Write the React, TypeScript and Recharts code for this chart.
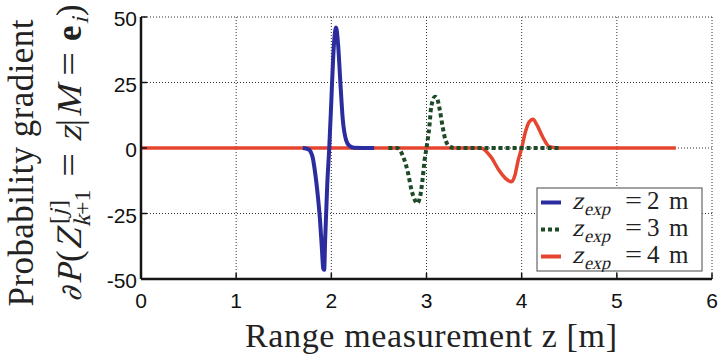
import React from 'react';
import { LineChart, Line, XAxis, YAxis, CartesianGrid, Customized } from 'recharts';

const xTicks = [0, 1, 2, 3, 4, 5, 6];
const yTicks = [-50, -25, 0, 25, 50];

const blueZ = [1.7, 1.76, 1.8, 1.83, 1.86, 1.88, 1.9, 1.915, 1.925, 1.935, 1.957, 1.978, 2.0, 2.02, 2.035, 2.05, 2.07, 2.095, 2.12, 2.155, 2.19, 2.24, 2.45];
const blueP = [0, -0.5, -3, -9.5, -19, -27, -38, -46, -46.5, -35, -14, 0, 18, 35, 43, 46, 40, 25, 11, 3, 0.8, 0.1, 0];

const greenZ = [2.6, 2.69, 2.755, 2.807, 2.842, 2.877, 2.9, 2.93, 2.958, 2.98, 3.0, 3.03, 3.05, 3.09, 3.11, 3.14, 3.17, 3.2, 3.25, 3.3, 4.4];
const greenP = [0, 0, -3.3, -9.7, -16, -19.8, -21.1, -19, -12.2, -4.6, 0, 8.1, 15.8, 19.6, 19, 14.5, 8, 3, 0.4, 0, 0];

const redZ = [0, 3.57, 3.675, 3.76, 3.83, 3.89, 3.93, 3.96, 4.0, 4.04, 4.08, 4.12, 4.16, 4.22, 4.29, 4.4, 5.62];
const redP = [0, 0, -3.3, -8.4, -11.6, -12.9, -10.3, -5.2, 0, 6.2, 10, 11, 8.8, 4.3, 0.5, 0, 0];

const legendValues = ['2', '3', '4'];

const BLUE = '#2b2d9e';
const GREEN = '#1d4a27';
const RED = '#e6452f';

const toRows = (zs: number[], ps: number[]) => zs.map((z, i) => ({ z, p: ps[i] }));
const blueData = toRows(blueZ, blueP);
const greenData = toRows(greenZ, greenP);
const redData = toRows(redZ, redP);

const series = [
  { key: 'red', data: redData, color: RED, width: 3.5, dash: undefined },
  { key: 'blue', data: blueData, color: BLUE, width: 4, dash: undefined },
  { key: 'green', data: greenData, color: GREEN, width: 4, dash: '4 3' },
];

const legendItems = [
  { v: legendValues[0], color: BLUE, dash: undefined },
  { v: legendValues[1], color: GREEN, dash: '4 3' },
  { v: legendValues[2], color: RED, dash: undefined },
];

const TICK_FONT = '"Liberation Sans", Arial, sans-serif';
const SERIF = '"Liberation Serif", "Times New Roman", serif';
const AX = '#151515';
const TXT = '#222';

const BottomTick = (p: any) => {
  const ay = p.y - 14;
  return (
    <g>
      <line x1={p.x} x2={p.x} y1={ay} y2={ay - 6} stroke={AX} strokeWidth={1.5} />
      <text x={p.x} y={p.y} dy="0.71em" textAnchor="middle" fontFamily={TICK_FONT} fontSize={21} fill="#111">
        {p.payload.value}
      </text>
    </g>
  );
};
const TopTick = (p: any) => (
  <line x1={p.x} x2={p.x} y1={p.y} y2={p.y + 6} stroke={AX} strokeWidth={1.5} />
);
const LeftTick = (p: any) => {
  const ax = p.x + 4;
  return (
    <g>
      <line x1={ax} x2={ax + 6} y1={p.y} y2={p.y} stroke={AX} strokeWidth={1.5} />
      <text x={p.x} y={p.y} dy={9} textAnchor="end" fontFamily={TICK_FONT} fontSize={21} fill="#111">
        {p.payload.value}
      </text>
    </g>
  );
};
const RightTick = (p: any) => (
  <line x1={p.x} x2={p.x - 6} y1={p.y} y2={p.y} stroke={AX} strokeWidth={1.5} />
);

type Piece = { t: string; s: number; dy?: number; size?: number; it?: boolean; bold?: boolean; fam?: string; w?: number };

const Glyph = ({ pc }: { pc: Piece }) => (
  <text
    transform={`translate(${pc.s}, ${pc.dy || 0})${pc.it ? ' skewX(-14)' : ''}`}
    x={0}
    y={0}
    fontFamily={pc.fam || SERIF}
    fontSize={pc.size || 35}
    fontWeight={pc.bold ? 'bold' : 'normal'}
    fill={TXT}
    textLength={pc.w}
    lengthAdjust={pc.w ? 'spacingAndGlyphs' : undefined}
  >
    {pc.t}
  </text>
);

const mathLabel: Piece[] = [
  { t: '∂', s: 0, it: true, fam: '"DejaVu Serif", serif', size: 29 },
  { t: 'P', s: 18, it: true },
  { t: '(', s: 40 },
  { t: 'Z', s: 52, it: true, size: 36 },
  { t: 'k', s: 75, dy: 9, it: true, size: 24 },
  { t: '+1', s: 87, dy: 9, size: 24 },
  { t: '[', s: 78, dy: -15, size: 24 },
  { t: 'j', s: 86, dy: -15, it: true, size: 24 },
  { t: ']', s: 94, dy: -15, size: 24 },
  { t: '=', s: 125, w: 24 },
  { t: 'z', s: 160, it: true },
  { t: '|', s: 176 },
  { t: 'M', s: 185, it: true, w: 31 },
  { t: '=', s: 226, w: 24 },
  { t: 'e', s: 261, bold: true },
  { t: 'i', s: 278, dy: 7, it: true, size: 24 },
  { t: ')', s: 286 },
];

const Labels = () => (
  <g fill={TXT}>
    <text
      transform="rotate(-90, 33, 163)"
      x={33}
      y={163}
      textAnchor="middle"
      fontFamily={SERIF}
      fontSize={35}
      textLength={287}
      lengthAdjust="spacing"
    >
      Probability gradient
    </text>
    <g transform="translate(81, 302) rotate(-90)">
      {mathLabel.map((pc, i) => (
        <Glyph key={i} pc={pc} />
      ))}
    </g>
    <text x={431} y={347} textAnchor="middle" fontFamily={SERIF} fontSize={34} textLength={372} lengthAdjust="spacing">
      Range measurement z [m]
    </text>
  </g>
);

const LegendBox = () => (
  <svg width={167} height={85} style={{ position: 'absolute', left: 536, top: 187 }}>
    <rect x={1} y={1} width={165} height={83} fill="#fff" stroke="#666" strokeWidth={1.2} />
    {legendItems.map((it, i) => {
      const base = 22 + i * 27;
      const mid = base - 6.5;
      return (
        <g key={it.v}>
          <line x1={5} x2={25} y1={mid} y2={mid} stroke={it.color} strokeWidth={4} strokeDasharray={it.dash} />
          <text transform={`translate(36, ${base}) skewX(-14)`} fontFamily={SERIF} fontSize={25} fill={TXT}>z</text>
          <text transform={`translate(48, ${base + 6}) skewX(-14)`} fontFamily={SERIF} fontSize={18} fill={TXT}>exp</text>
          <text x={89} y={base} fontFamily={SERIF} fontSize={25} fill={TXT} textLength={17} lengthAdjust="spacingAndGlyphs">=</text>
          <text x={111} y={base} fontFamily={SERIF} fontSize={25} fill={TXT}>{it.v}</text>
          <text x={133} y={base} fontFamily={SERIF} fontSize={25} fill={TXT}>m</text>
        </g>
      );
    })}
  </svg>
);

export default function App() {
  return (
    <div style={{ position: 'absolute', left: 0, top: 0, width: 721, height: 360, background: '#fff' }}>
      <LineChart width={721} height={360} margin={{ top: 17, right: 9, bottom: 0, left: 0 }}>
        <CartesianGrid xAxisId="b" yAxisId="l" stroke="#333" strokeDasharray="1 2" strokeWidth={1} />
        <XAxis
          xAxisId="b"
          type="number"
          dataKey="z"
          domain={[0, 6]}
          ticks={xTicks}
          height={81}
          tickSize={0}
          tickMargin={14}
          tickLine={false}
          axisLine={{ stroke: AX, strokeWidth: 2.5 }}
          tick={BottomTick}
          interval={0}
          allowDataOverflow
        />
        <XAxis
          xAxisId="t"
          orientation="top"
          type="number"
          domain={[0, 6]}
          ticks={xTicks}
          height={0}
          tickSize={0}
          tickMargin={0}
          tickLine={false}
          axisLine={{ stroke: AX, strokeWidth: 2.5 }}
          tick={TopTick}
          interval={0}
          allowDataOverflow
        />
        <YAxis
          yAxisId="l"
          type="number"
          domain={[-50, 50]}
          ticks={yTicks}
          width={141}
          tickSize={0}
          tickMargin={4}
          tickLine={false}
          axisLine={{ stroke: AX, strokeWidth: 2.5 }}
          tick={LeftTick}
          interval={0}
          allowDataOverflow
        />
        <YAxis
          yAxisId="r"
          orientation="right"
          type="number"
          domain={[-50, 50]}
          ticks={yTicks}
          width={0}
          tickSize={0}
          tickMargin={0}
          tickLine={false}
          axisLine={{ stroke: AX, strokeWidth: 2.5 }}
          tick={RightTick}
          interval={0}
          allowDataOverflow
        />
        {series.map((s) => (
          <Line
            key={s.key}
            xAxisId="b"
            yAxisId="l"
            data={s.data}
            dataKey="p"
            type="monotone"
            stroke={s.color}
            strokeWidth={s.width}
            strokeDasharray={s.dash}
            dot={false}
            activeDot={false}
            isAnimationActive={false}
          />
        ))}
        <Customized component={Labels} />
      </LineChart>
      <LegendBox />
    </div>
  );
}
